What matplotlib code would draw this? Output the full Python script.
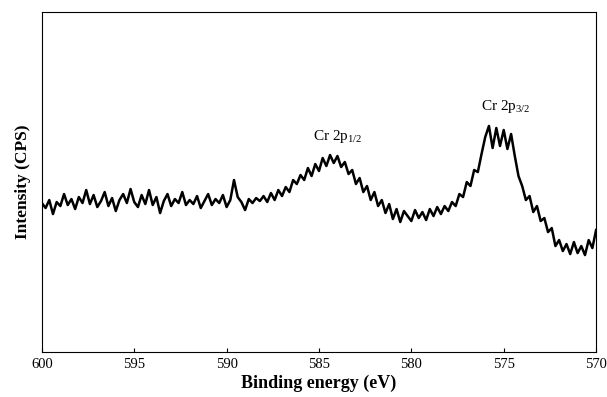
import numpy as np
import matplotlib.pyplot as plt

# binding energy, 600 -> 570 eV in 0.2 eV steps
energy = np.linspace(600, 570, 151)
counts = [
    149, 144, 152, 138, 150, 146, 158, 147, 153, 143,
    155, 149, 162, 148, 157, 145, 151, 160, 146, 154,
    141, 152, 158, 149, 163, 150, 145, 157, 148, 162,
    147, 155, 139, 151, 158, 146, 153, 149, 160, 147,
    152, 148, 156, 144, 151, 158, 147, 153, 149, 157,
    145, 152, 172, 155, 150, 142, 153, 149, 154, 151,
    156, 150, 159, 152, 162, 156, 165, 160, 172, 168,
    177, 172, 184, 176, 188, 181, 194, 186, 197, 189,
    196, 185, 190, 178, 182, 168, 174, 160, 166, 152,
    160, 146, 152, 139, 148, 133, 143, 130, 141, 136,
    131, 142, 134, 140, 132, 143, 136, 145, 138, 146,
    141, 150, 146, 158, 155, 170, 166, 182, 180, 198,
    215, 226, 204, 224, 206, 222, 203, 218, 196, 176,
    166, 152, 156, 140, 146, 131, 134, 120, 124, 106,
    112, 101, 108, 98, 110, 99, 106, 97, 112, 104,
    122,
]

peak_labels = ['Cr 2p$_{1/2}$', 'Cr 2p$_{3/2}$']
peak_pos = [584.0, 574.9]
peak_h = [207, 237]

plt.rcParams['font.family'] = ['Liberation Serif', 'DejaVu Serif']
plt.rcParams['mathtext.fontset'] = 'custom'
plt.rcParams['mathtext.rm'] = 'Liberation Serif'

fig = plt.figure(figsize=(6.07, 3.97), dpi=100)
ax = fig.add_axes([0.069, 0.113, 0.913, 0.857])
ax.plot(energy, counts, color='black', lw=1.8)

for lab, x, y in zip(peak_labels, peak_pos, peak_h):
    ax.text(x, y, lab, ha='center', va='bottom', fontsize=11)

ax.set_xlim(600, 570)
ax.set_ylim(0, 340)
ax.set_xticks([600, 595, 590, 585, 580, 575, 570])
ax.set_yticks([])
ax.tick_params(axis='x', direction='in', length=3, labelsize=10.5, pad=4)
ax.set_xlabel('Binding energy (eV)', fontsize=13, fontweight='bold', labelpad=3)
ax.set_ylabel('Intensity (CPS)', fontsize=12.5, fontweight='bold', labelpad=8)

plt.savefig('out.png', dpi=100)
